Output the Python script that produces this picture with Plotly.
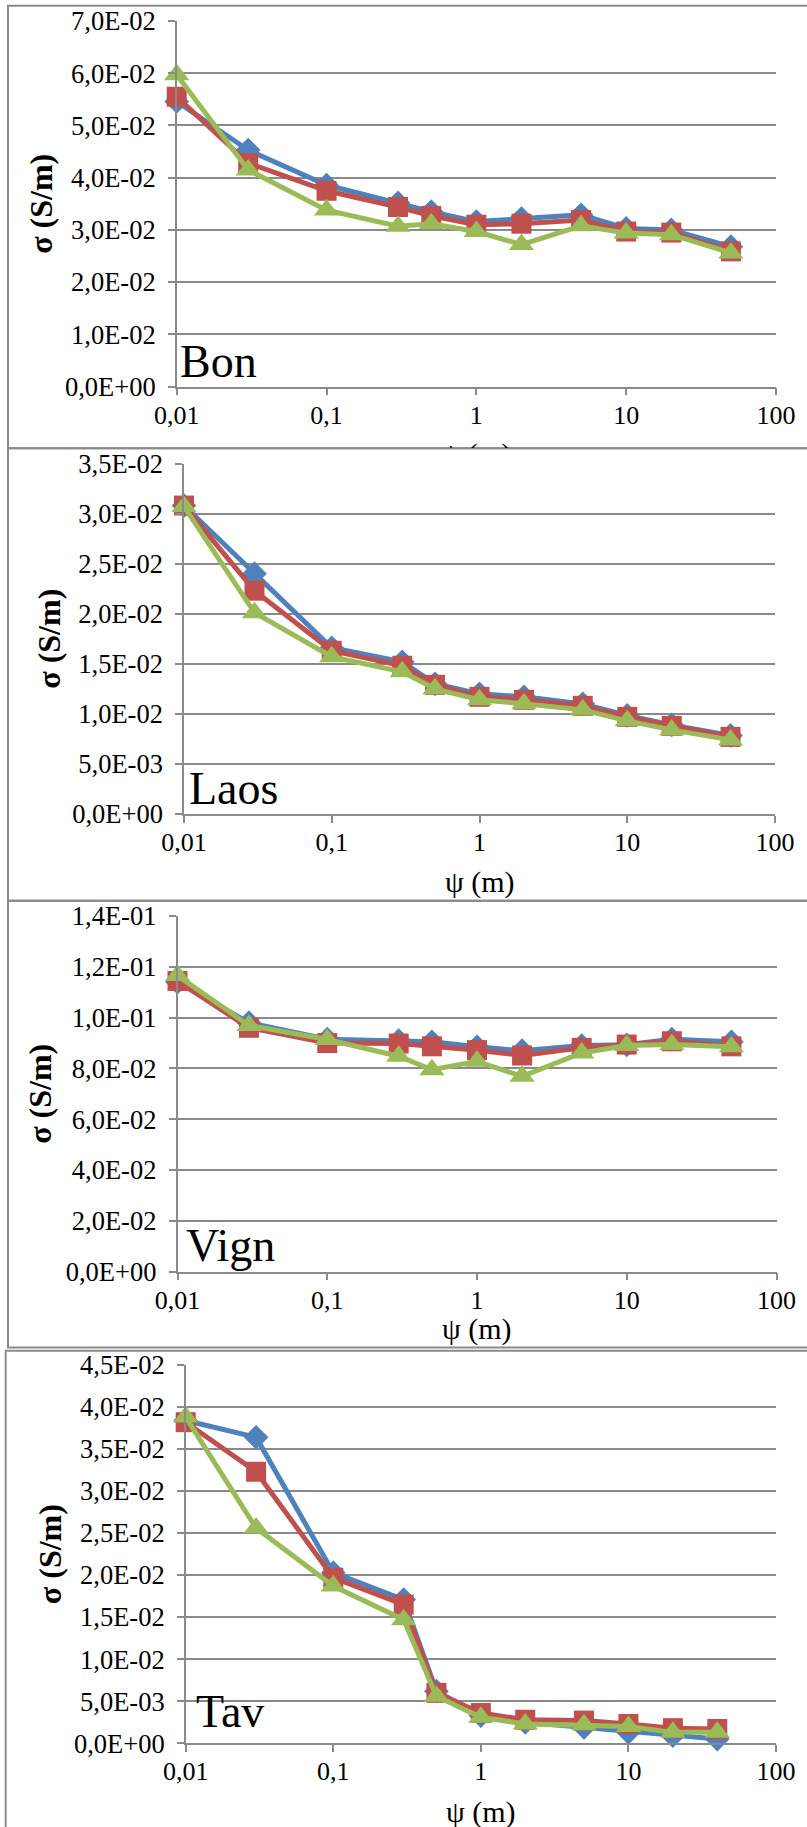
import plotly.graph_objects as go

W, H = 807, 1827

# ---------------- data ----------------
psi = [0.01, 0.03, 0.1, 0.3, 0.5, 1, 2, 5, 10, 20, 50]
psi_tav = [0.01, 0.03, 0.1, 0.3, 0.5, 1, 2, 5, 10, 20, 40]

bon_blue = [0.0546, 0.0453, 0.0386, 0.0352, 0.0335, 0.0316, 0.0322, 0.0329, 0.0303, 0.0300, 0.0268]
bon_red = [0.0555, 0.0428, 0.0375, 0.0344, 0.0327, 0.0310, 0.0312, 0.0319, 0.0297, 0.0295, 0.0259]
bon_green = [0.0597, 0.0415, 0.0338, 0.0307, 0.0312, 0.0297, 0.0272, 0.0308, 0.0294, 0.0291, 0.0256]

laos_blue = [0.0308, 0.0240, 0.0166, 0.0152, 0.0130, 0.0120, 0.0117, 0.0110, 0.00985, 0.0089, 0.00785]
laos_red = [0.0308, 0.0223, 0.0163, 0.0148, 0.0129, 0.0117, 0.0114, 0.0108, 0.0097, 0.0088, 0.0077]
laos_green = [0.0307, 0.0201, 0.0157, 0.0142, 0.0125, 0.0114, 0.0110, 0.0104, 0.0093, 0.0084, 0.0074]

vign_blue = [0.1140, 0.0980, 0.0915, 0.0910, 0.0905, 0.0885, 0.0870, 0.0890, 0.0893, 0.0915, 0.0905]
vign_red = [0.1144, 0.0960, 0.0900, 0.0898, 0.0887, 0.0872, 0.0851, 0.0881, 0.0894, 0.0907, 0.0887]
vign_green = [0.1166, 0.0969, 0.0914, 0.0848, 0.0795, 0.0828, 0.0769, 0.0861, 0.0890, 0.0894, 0.0885]

tav_blue = [0.0384, 0.0364, 0.0203, 0.0171, 0.0062, 0.0033, 0.0025, 0.0019, 0.0013, 0.0009, 0.0005]
tav_red = [0.0382, 0.0323, 0.0197, 0.0165, 0.0060, 0.0036, 0.0028, 0.0027, 0.0023, 0.0018, 0.0017]
tav_green = [0.0388, 0.0256, 0.0187, 0.0147, 0.0056, 0.0031, 0.0023, 0.0022, 0.0020, 0.0013, 0.0013]

panel_names = ["Bon", "Laos", "Vign", "Tav"]
x_tickvals = [0.01, 0.1, 1, 10, 100]
x_ticktext = ["0,01", "0,1", "1", "10", "100"]
y_ticks_bon = [0, 0.01, 0.02, 0.03, 0.04, 0.05, 0.06, 0.07]
y_ticks_laos = [0, 0.005, 0.01, 0.015, 0.02, 0.025, 0.03, 0.035]
y_ticks_vign = [0, 0.02, 0.04, 0.06, 0.08, 0.10, 0.12, 0.14]
y_ticks_tav = [0, 0.005, 0.01, 0.015, 0.02, 0.025, 0.03, 0.035, 0.04, 0.045]
y_title = "σ (S/m)"
x_title = "ψ (m)"

# ---------------- styling ----------------
BLUE, RED, GREEN = "#4F81BD", "#C0504D", "#9BBB59"
GRAY = "#8a8a8a"
FONT = "Liberation Serif"


def fmt(v):
    return ("%.1E" % v).replace(".", ",")


def px_x(p):
    return p / W


def px_y(p):
    return 1 - p / H


# panel geometry in pixels: (x_left, x_right, y_top, y_bottom)
panels = [
    dict(name=panel_names[0], x=psi, series=(bon_blue, bon_red, bon_green), ticks=y_ticks_bon,
         geo=(176.7, 776.0, 21.0, 386.7), frame=(8, 830, 5.7, 448.3), ytx=41, label=(178, 389),
         xtitle=None),
    dict(name=panel_names[1], x=psi, series=(laos_blue, laos_red, laos_green), ticks=y_ticks_laos,
         geo=(184.0, 775.0, 463.5, 814.0), frame=(8, 830, 448.3, 900.7), ytx=49, label=(187, 816),
         xtitle=881.7),
    dict(name=panel_names[2], x=psi, series=(vign_blue, vign_red, vign_green), ticks=y_ticks_vign,
         geo=(177.5, 776.5, 916.0, 1271.7), frame=(8, 830, 900.7, 1347.5), ytx=40, label=(184, 1273),
         xtitle=1329),
    dict(name=panel_names[3], x=psi_tav, series=(tav_blue, tav_red, tav_green), ticks=y_ticks_tav,
         geo=(185.7, 776.0, 1365.0, 1743.3), frame=(5.7, 830, 1350.7, 1860), ytx=50, label=(194, 1739),
         xtitle=1811.7),
]

fig = go.Figure()
layout = dict(
    template="none",
    width=W, height=H, margin=dict(l=0, r=0, t=0, b=0, autoexpand=False),
    paper_bgcolor="white", plot_bgcolor="rgba(0,0,0,0)", showlegend=False,
    font=dict(family=FONT, color="black"),
)
shapes = []
annotations = []

markers = [("diamond", 19, BLUE), ("square", 20, RED), ("triangle-up", 22, GREEN)]

for i, p in enumerate(panels):
    n = i + 1
    xa = "x" if n == 1 else f"x{n}"
    ya = "y" if n == 1 else f"y{n}"
    xl, xr, yt, yb = p["geo"]
    for (sym, size, col), yv in zip(markers, p["series"]):
        fig.add_trace(go.Scatter(
            x=p["x"], y=yv, mode="lines+markers", xaxis=xa, yaxis=ya,
            line=dict(color=col, width=5),
            marker=dict(symbol=sym, size=size, color=col, line=dict(width=0)),
            cliponaxis=False,
        ))
    layout["xaxis" if n == 1 else f"xaxis{n}"] = dict(
        domain=[px_x(xl), px_x(xr)], anchor=ya, type="log", range=[-2, 2], automargin=False,
        tickvals=x_tickvals, ticktext=x_ticktext, showgrid=False, zeroline=False,
        showline=True, linecolor=GRAY, linewidth=1.5, ticks="outside", ticklen=7,
        tickcolor=GRAY, tickwidth=1.5, tickfont=dict(family=FONT, size=26, color="black"),
        ticklabelstandoff=-3,
    )
    layout["yaxis" if n == 1 else f"yaxis{n}"] = dict(
        domain=[px_y(yb), px_y(yt)], anchor=xa, range=[0, p["ticks"][-1]], automargin=False,
        tickvals=p["ticks"], ticktext=[fmt(v) for v in p["ticks"]],
        showgrid=True, gridcolor=GRAY, gridwidth=1.5, zeroline=False,
        showline=True, linecolor=GRAY, linewidth=1.5, ticks="outside", ticklen=7,
        tickcolor=GRAY, tickwidth=1.5, tickfont=dict(family=FONT, size=26.5, color="black"),
        ticklabelstandoff=7,
    )
    fx0, fx1, fy0, fy1 = p["frame"]
    shapes.append(dict(type="rect", xref="paper", yref="paper", layer="below",
                       x0=px_x(fx0), x1=px_x(fx1), y0=px_y(fy1), y1=px_y(fy0),
                       line=dict(color=GRAY, width=2), fillcolor="rgba(0,0,0,0)"))
    annotations.append(dict(text=y_title, textangle=-90, xref="paper", yref="paper",
                            x=px_x(p["ytx"]), y=px_y((yt + yb) / 2), xanchor="center",
                            yanchor="middle", showarrow=False,
                            font=dict(family=FONT, size=32, color="black", weight="bold")))
    lx, ly = p["label"]
    annotations.append(dict(text=p["name"], xref="paper", yref="paper", x=px_x(lx), y=px_y(ly),
                            xanchor="left", yanchor="bottom", showarrow=False,
                            font=dict(family=FONT, size=46, color="black")))
    if p["xtitle"] is not None:
        annotations.append(dict(text=x_title, xref="paper", yref="paper", x=px_x((xl + xr) / 2),
                                y=px_y(p["xtitle"]), xanchor="center", yanchor="middle",
                                showarrow=False, font=dict(family=FONT, size=30, color="black")))

# Bon's x-axis title is mostly hidden behind the Laos frame: draw it clipped in a thin helper subplot
fig.add_trace(go.Scatter(x=[(176.7 + 776.0) / 2], y=[-8 / 12], mode="text", text=[x_title],
                         textfont=dict(family=FONT, size=30, color="black"), xaxis="x5", yaxis="y5",
                         cliponaxis=True, hoverinfo="skip"))
layout["xaxis5"] = dict(domain=[0, 1], range=[0, W], visible=False, anchor="y5", automargin=False)
layout["yaxis5"] = dict(domain=[px_y(448), px_y(436)], range=[0, 1], visible=False, anchor="x5",
                        automargin=False)

layout["shapes"] = shapes
layout["annotations"] = annotations
fig.update_layout(**layout)
fig.write_html("out.html")
